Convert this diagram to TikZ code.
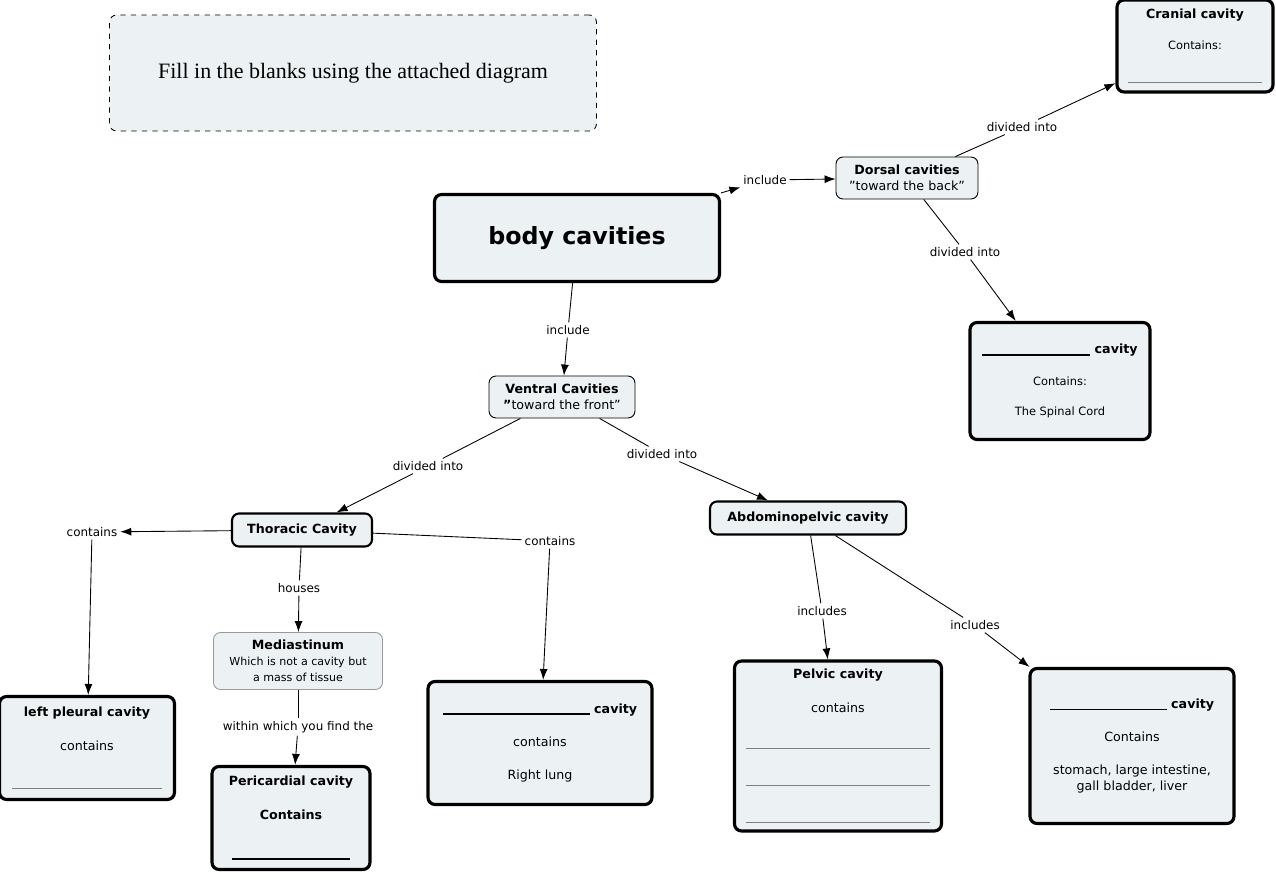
\documentclass[tikz,border=0pt]{standalone}
\usepackage{fontspec}
\setmainfont{DejaVu Sans}
\newfontfamily\titlefont{Liberation Serif}
\usetikzlibrary{arrows.meta, positioning}

\newcommand{\blank}[1]{{\color{black!50}\rule{#1cm}{0.5pt}}}
\newcommand{\bblank}[1]{\rule[-1pt]{#1cm}{0.8pt}}

\begin{document}
\begin{tikzpicture}[
    x=0.02cm, y=-0.02cm,
    font=\fontsize{7.2}{9}\selectfont,
    concept/.style = {
        rectangle, draw=black, fill=cavfill,
        rounded corners=4pt, align=center, inner sep=1pt
    },
    thin/.style = {concept, line width=0.5pt},
    mid/.style = {concept, line width=1.2pt},
    thick/.style = {concept, line width=1.8pt},
    link/.style = {fill=white, inner sep=1.5pt, font=\fontsize{6.8}{8}\selectfont},
    arr/.style = {-{Latex[length=2.2mm, width=1.6mm]}, line width=0.5pt},
    ln/.style = {line width=0.5pt},
]
\definecolor{cavfill}{HTML}{ECF2F4}
\useasboundingbox (0,0) rectangle (1276,872);

% concepts
\node[concept, dashed, line width=0.5pt, minimum width=9.74cm, minimum height=2.32cm,
      font=\titlefont\fontsize{12.5}{14}\selectfont] (task) at (353,73)
    {Fill in the blanks using the attached diagram};
\node[thick, minimum width=5.7cm, minimum height=1.74cm,
      font=\bfseries\fontsize{13.5}{16}\selectfont] (body) at (577,238) {body cavities};
\node[thin, minimum width=2.84cm, minimum height=0.84cm] (dorsal) at (907,178)
    {\textbf{Dorsal cavities}\\"toward the back"};
\node[thick, minimum width=3.12cm, minimum height=1.84cm] (cranial) at (1195,46)
    {\textbf{Cranial cavity}\\[9pt]{\fontsize{6.5}{8}\selectfont Contains:}\\[10pt]\blank{2.7}};
\node[thick, minimum width=3.6cm, minimum height=2.34cm] (spinal) at (1060,381)
    {\textbf{\bblank{2.16}\ cavity}\\[9pt]{\fontsize{6.5}{8}\selectfont Contains:}\\[8pt]{\fontsize{6.5}{8}\selectfont The Spinal Cord}};
\node[thin, minimum width=2.92cm, minimum height=0.84cm] (ventral) at (562,397)
    {\textbf{Ventral Cavities}\\\textbf{"}toward the front"};
\node[mid, minimum width=2.8cm, minimum height=0.66cm, font=\bfseries\fontsize{7.2}{9}\selectfont]
    (thoracic) at (302,530) {Thoracic Cavity};
\node[mid, minimum width=3.92cm, minimum height=0.66cm, font=\bfseries\fontsize{7.2}{9}\selectfont]
    (abdomino) at (808,518) {Abdominopelvic cavity};
\node[thin, draw=black!40, minimum width=3.38cm, minimum height=1.14cm] (medi) at (298,661)
    {\textbf{Mediastinum}\\{\fontsize{6.3}{8}\selectfont Which is not a cavity but}\\{\fontsize{6.3}{8}\selectfont a mass of tissue}};
\node[thick, minimum width=3.5cm, minimum height=2.06cm] (leftpl) at (87,748)
    {\textbf{left pleural cavity}\\[10pt]contains\\[13pt]\blank{3}};
\node[thick, minimum width=3.16cm, minimum height=2.06cm] (pericard) at (291,818)
    {\textbf{Pericardial cavity}\\[10pt]\textbf{Contains}\\[13pt]\bblank{2.36}};
\node[thick, minimum width=4.48cm, minimum height=2.46cm] (rightpl) at (540,743)
    {\textbf{\bblank{2.94}\ cavity}\\[10pt]contains\\[10pt]Right lung};
\node[thick, minimum width=4.14cm, minimum height=3.4cm] (pelvic) at (838,746)
    {\textbf{Pelvic cavity}\\[10pt]contains\\[12pt]\blank{3.7}\\[12pt]\blank{3.7}\\[12pt]\blank{3.7}};
\node[thick, minimum width=4.08cm, minimum height=3.1cm] (abdom) at (1132,746)
    {\textbf{\bblank{2.34}\ cavity}\\[10pt]Contains\\[10pt]stomach, large intestine,\\gall bladder, liver};

% linking phrases
\node[link] (l1) at (765,180) {include};
\node[link] (l2) at (1022,127) {divided into};
\node[link] (l3) at (965,252) {divided into};
\node[link] (l4) at (568,330) {include};
\node[link] (l5) at (428,466) {divided into};
\node[link] (l6) at (662,454) {divided into};
\node[link] (l7) at (92,532) {contains};
\node[link] (l8) at (550,541) {contains};
\node[link] (l9) at (299,588) {houses};
\node[link] (l10) at (298,727) {within which you find the};
\node[link] (l11) at (822,611) {includes};
\node[link] (l12) at (975,625) {includes};

% connectors
\draw[arr] (body.north east) -- (l1);
\draw[arr] (l1) -- (dorsal);
\draw[ln] (dorsal) -- (l2);
\draw[arr] (l2) -- (cranial);
\draw[ln] (dorsal) -- (l3);
\draw[arr] (l3) -- (spinal);
\draw[ln] (body) -- (l4);
\draw[arr] (l4) -- (ventral);
\draw[ln] (ventral) -- (l5);
\draw[arr] (l5) -- (thoracic);
\draw[ln] (ventral) -- (l6);
\draw[arr] (l6) -- (abdomino);
\draw[arr] (thoracic) -- (l7);
\draw[arr] (l7) -- (leftpl);
\draw[ln] (thoracic) -- (l8);
\draw[arr] (l8) -- (rightpl);
\draw[ln] (thoracic) -- (l9);
\draw[arr] (l9) -- (medi);
\draw[ln] (medi) -- (l10);
\draw[arr] (l10) -- (pericard);
\draw[ln] (abdomino) -- (l11);
\draw[arr] (l11) -- (pelvic);
\draw[ln] (abdomino) -- (l12);
\draw[arr] (l12) -- (abdom);
\end{tikzpicture}
\end{document}
